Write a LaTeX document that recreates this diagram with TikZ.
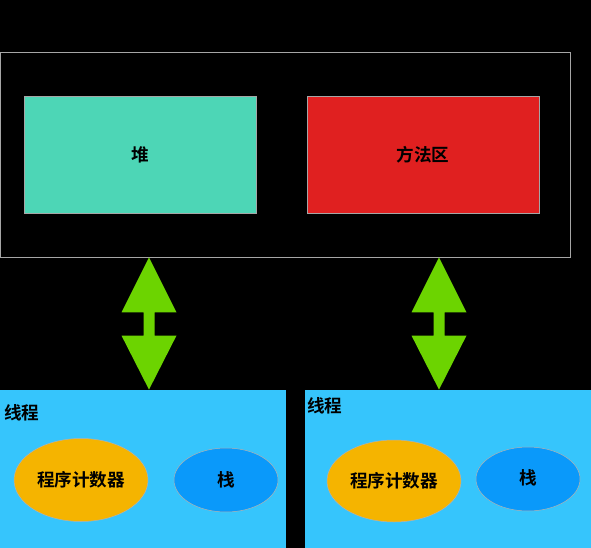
\documentclass[tikz,border=0pt]{standalone}
\usepackage{fontspec}
\usepackage{xcolor}
\setmainfont{Noto Sans CJK SC}[BoldFont={Noto Sans CJK SC Bold}]
\usetikzlibrary{shapes,arrows,calc,backgrounds,positioning}

\definecolor{heapcol}{RGB}{77,214,182}
\definecolor{methodcol}{RGB}{224,32,32}
\definecolor{threadcol}{RGB}{54,197,252}
\definecolor{pccol}{RGB}{245,180,0}
\definecolor{stackcol}{RGB}{10,153,250}
\definecolor{arrowcol}{RGB}{108,212,0}

\tikzset{
  area/.style={rectangle, draw=gray!70, line width=0.8pt, inner sep=0pt},
  blob/.style={ellipse, draw=gray!50!black!40, line width=0.5pt, inner sep=0pt},
  txt/.style={font=\fontsize{17.6}{20}\selectfont\bfseries, text=black}
}
% two-headed fat arrow between two points
\newcommand{\bothway}[2]{%
  \fill[arrowcol] (#1) -- ($(#1)+(27.5,55)$) -- ($(#1)+(5.5,55)$) -- ($(#2)+(5.5,-54)$)
    -- ($(#2)+(27.5,-54)$) -- (#2) -- ($(#2)+(-27.5,-54)$) -- ($(#2)+(-5.5,-54)$)
    -- ($(#1)+(-5.5,55)$) -- ($(#1)+(-27.5,55)$) -- cycle;}

\begin{document}
\begin{tikzpicture}[x=1pt,y=-1pt,show background rectangle,background rectangle/.style={fill=black},inner frame sep=0pt]
\useasboundingbox (0,0) rectangle (591,548);
    \node[area, minimum width=570pt, minimum height=205pt] (jvm) at (285,154.5) {};
    \node[area, fill=heapcol, minimum width=232pt, minimum height=117pt, txt] (heap) at (140,154.5) {堆};
    \node[area, fill=methodcol, minimum width=232pt, minimum height=117pt, txt] (method) at (423,154.5) {方法区};

    \node[area, draw=none, fill=threadcol, minimum width=286pt, minimum height=158pt] (threadA) at (143,469) {};
    \node[area, draw=none, fill=threadcol, minimum width=286pt, minimum height=158pt] (threadB) at (448,469) {};
    \node[txt, anchor=west, inner sep=0pt] (labelA) at (4,413) {线程};
    \node[txt, anchor=west, inner sep=0pt] (labelB) at (307,406) {线程};

    \node[blob, fill=pccol, minimum width=134pt, minimum height=83pt, txt] (pcA) at (81,480) {程序计数器};
    \node[blob, fill=stackcol, minimum width=104pt, minimum height=64pt, txt] (stackA) at (226,480) {栈};
    \node[blob, fill=pccol, minimum width=134pt, minimum height=82pt, txt] (pcB) at (394,481) {程序计数器};
    \node[blob, fill=stackcol, minimum width=104pt, minimum height=64pt, txt] (stackB) at (528,479) {\raisebox{3pt}{栈}};

    \coordinate (topA) at (149,0 |- jvm.south);
    \coordinate (botA) at (149,0 |- threadA.north);
    \coordinate (topB) at (439,0 |- jvm.south);
    \coordinate (botB) at (439,0 |- threadB.north);
    \bothway{topA}{botA}
    \bothway{topB}{botB}
\end{tikzpicture}
\end{document}
